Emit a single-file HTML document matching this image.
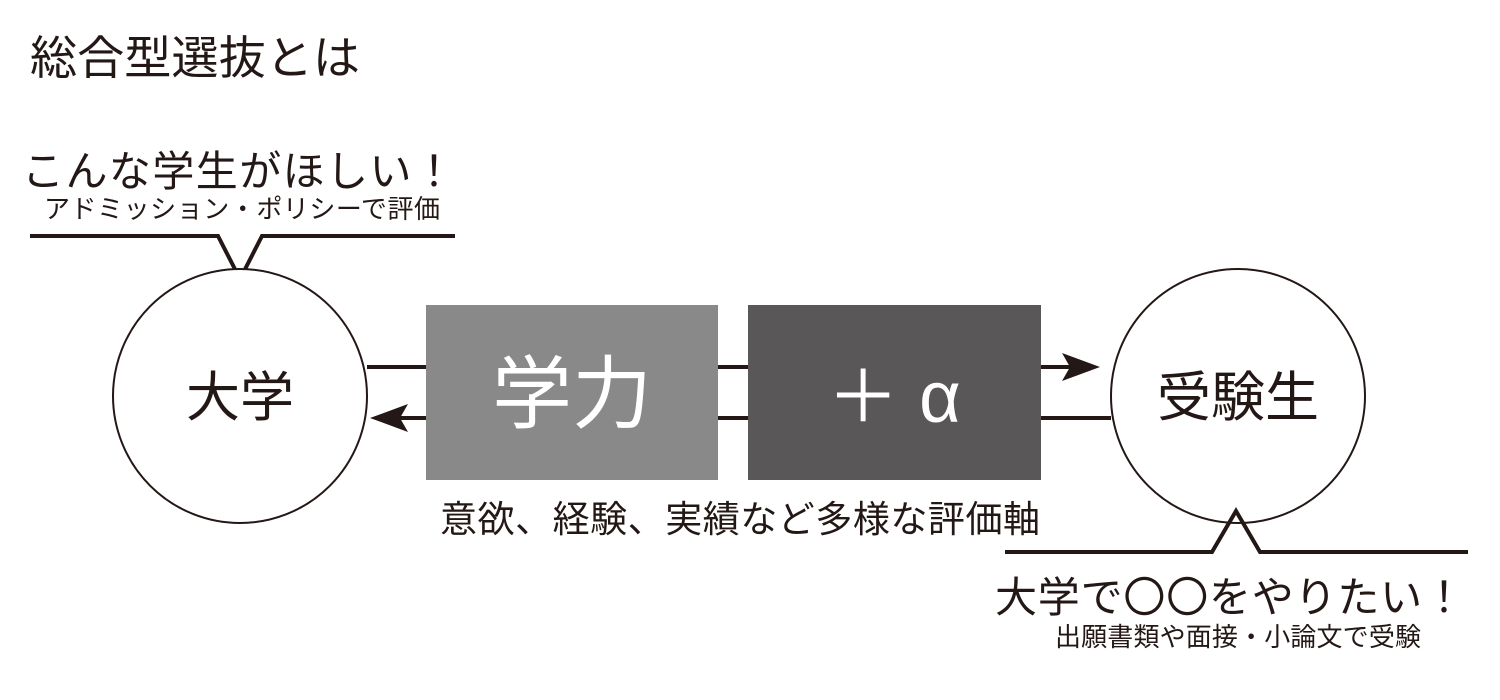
<!DOCTYPE html>
<html><head><meta charset="utf-8"><style>
html,body{margin:0;padding:0;background:#fff;width:1500px;height:700px;overflow:hidden}
text{font-family:"Liberation Sans","Noto Sans CJK JP",sans-serif;fill:#231815}
</style></head><body>
<svg width="1500" height="700" viewBox="0 0 1500 700" xmlns="http://www.w3.org/2000/svg">
<text x="30" y="74" font-size="46" textLength="330" lengthAdjust="spacingAndGlyphs">総合型選抜とは</text>
<text x="22" y="186" font-size="42" textLength="433">こんな学生がほしい！</text>
<text x="44" y="218" font-size="26" textLength="396">アドミッション・ポリシーで評価</text>
<polyline points="30,236 218,236 240,279 262,236 455,236" fill="none" stroke="#231815" stroke-width="4"/>
<circle cx="240" cy="396" r="127" fill="#fff" stroke="#231815" stroke-width="2"/>
<text x="240" y="416" font-size="54" text-anchor="middle">大学</text>
<circle cx="1238" cy="396" r="127" fill="#fff" stroke="#231815" stroke-width="2"/>
<text x="1238" y="416" font-size="54" text-anchor="middle">受験生</text>
<line x1="367" y1="367" x2="1075" y2="367" stroke="#231815" stroke-width="4"/>
<polygon points="1100,367 1062,353 1070,367 1062,381" fill="#231815"/>
<line x1="1111" y1="418" x2="395" y2="418" stroke="#231815" stroke-width="4"/>
<polygon points="370,418 408,404 400,418 408,432" fill="#231815"/>
<rect x="426" y="305" width="292" height="175" fill="#898989"/>
<text x="572" y="422" font-size="80" text-anchor="middle" style="fill:#fff">学力</text>
<rect x="748" y="305" width="293" height="175" fill="#595757"/>
<text x="894" y="422" font-size="72" text-anchor="middle" style="fill:#fff">＋ α</text>
<text x="440" y="532" font-size="37" textLength="600">意欲、経験、実績など多様な評価軸</text>
<polyline points="1005,552 1212,552 1236,511 1260,552 1468,552" fill="none" stroke="#231815" stroke-width="4"/>
<text x="995" y="612" font-size="42" textLength="470">大学で〇〇をやりたい！</text>
<text x="1055" y="646" font-size="26" textLength="366">出願書類や面接・小論文で受験</text>
</svg>
</body></html>
